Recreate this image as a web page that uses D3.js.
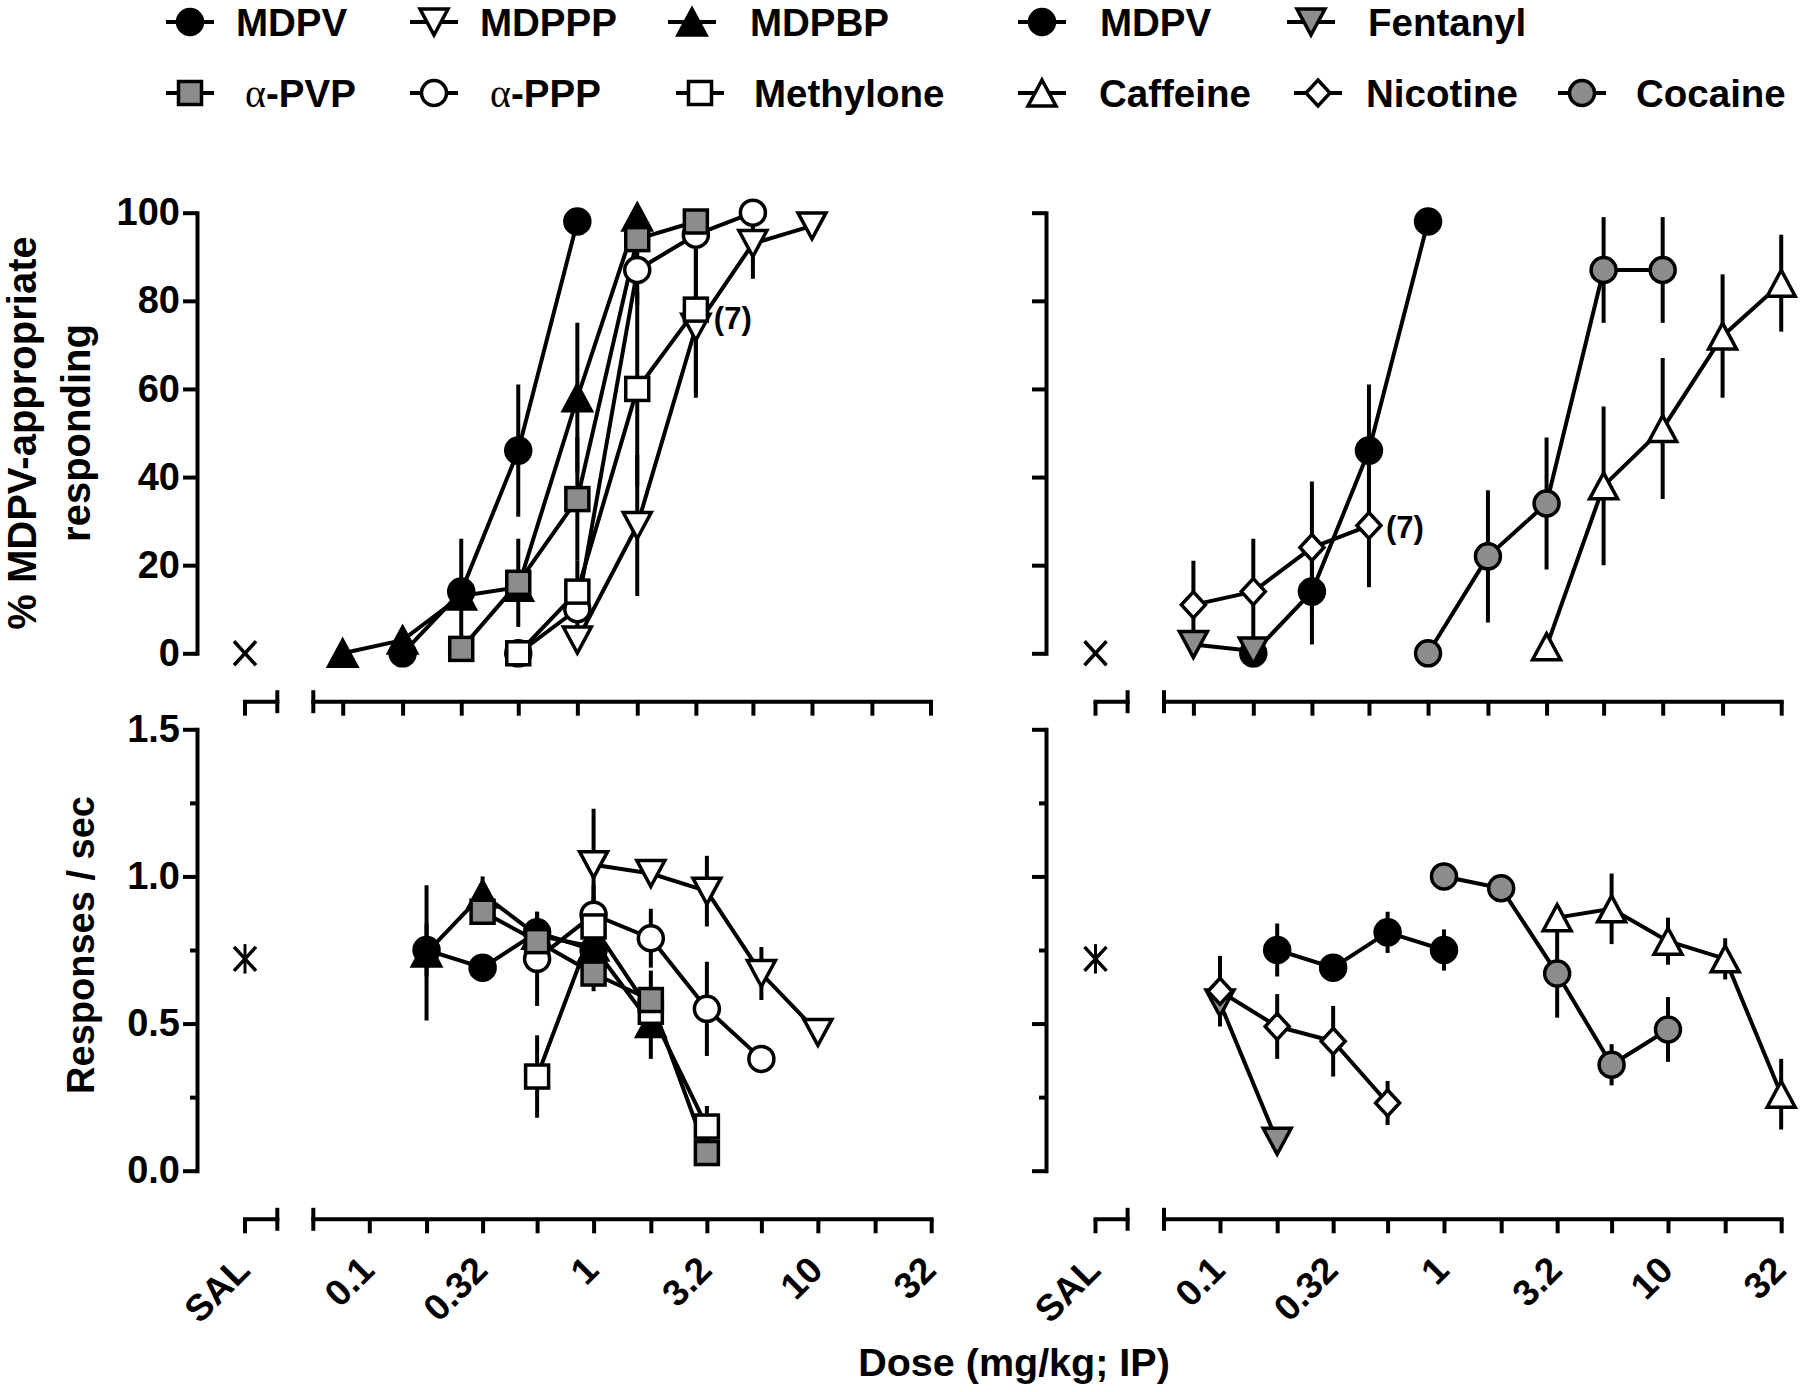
<!DOCTYPE html>
<html><head><meta charset="utf-8">
<script src="https://cdn.jsdelivr.net/npm/d3@7/dist/d3.min.js"></script>
<style>
html,body{margin:0;padding:0;background:#fff}
svg{display:block}
</style></head>
<body><svg id="chart" width="1800" height="1392"></svg>
<script>
// ---------------- data ----------------
const doseTicks = [0.1,0.18,0.32,0.56,1,1.8,3.2,5.6,10,18,32];
const doseTickLabels = ["0.1","","0.32","","1","","3.2","","10","","32"];
const salLabel = "SAL";
const pctTicks = [0,20,40,60,80,100];
const rateTicks = [0,0.5,1,1.5];
const rateMinorTicks = [0.25,0.75,1.25];

const salPct = 0;
const salRate = 0.72, salRateErr = 0.05;

const mdpvDose = [0.18,0.32,0.56,1];
const mdpvPct = [0,14,46,98];
const mdpvPctErr = [0,12,15,0];
const mdpvRate = [0.75,0.69,0.81,0.75];
const mdpvRateErr = [0.09,0,0.07,0.07];

const mdpppDose = [1,1.8,3.2,5.6,10];
const mdpppPct = [3,29,74,93,97];
const mdpppPctErr = [0,16,16,8,0];
const mdpppRate = [1.04,1.01,0.95,0.67,0.47];
const mdpppRateErr = [0.19,0,0.12,0.09,0];

const mdpbpDose = [0.1,0.18,0.32,0.56,1,1.8];
const mdpbpPct = [0,3,13,15,58,99];
const mdpbpPctErr = [0,0,0,0,17,0];
const mdpbpRate = [null,0.74,0.94,0.8,0.76,0.5];
const mdpbpRateErr = [0,0.23,0.06,0,0,0.12];

const apvpDose = [0.32,0.56,1,1.8,3.2];
const apvpPct = [1,16,35,94,98];
const apvpPctErr = [0,10,14,0,0];
const apvpRate = [0.88,0.78,0.67,0.58,0.06];
const apvpRateErr = [0.04,0,0.06,0.1,0];

const apppDose = [0.56,1,1.8,3.2,5.6];
const apppPct = [0,10,87,95,100];
const apppPctErr = [0,5,8,5,0];
const apppRate = [0.72,0.87,0.79,0.55,0.38];
const apppRateErr = [0.16,0.1,0.1,0.16,0];

const methDose = [0.56,1,1.8,3.2];
const methPct = [0,14,60,78];
const methPctErr = [0,7,22,19];
const methRate = [0.32,0.83,0.54,0.15];
const methRateErr = [0.14,0.1,0.08,0.07];

const fentDose = [0.1,0.18];
const fentPct = [2,0.5];
const fentPctErr = [0,0];
const fentRate = [0.57,0.1];
const fentRateErr = [0,0];

const caffDose = [3.2,5.6,10,18,32];
const caffPct = [1.5,38,51,72,84];
const caffPctErr = [0,18,16,14,11];
const caffRate = [0.86,0.89,0.78,0.72,0.26];
const caffRateErr = [0,0.12,0.08,0.07,0.12];

const nicDose = [0.1,0.18,0.32,0.56];
const nicPct = [11,14,24,29];
const nicPctErr = [10,12,15,14];
const nicRate = [0.61,0.49,0.44,0.23];
const nicRateErr = [0.12,0.11,0.12,0.075];

const cocDose = [1,1.8,3.2,5.6,10];
const cocPct = [0,22,34,87,87];
const cocPctErr = [0,15,15,12,12];
const cocRate = [1.0,0.96,0.67,0.36,0.48];
const cocRateErr = [0,0,0.15,0.07,0.11];

const annotText = ["(7)","(7)"];

// ---------------- setup ----------------
const FONT = "'Liberation Sans', Arial, Helvetica, sans-serif";
const GRAY = "#8c8c8c";
const LW = 4;
const svg = d3.select("#chart");

const S = (name, shape, fill, dose, pct, pctErr, rate, rateErr) =>
  ({name, shape, fill, dose, pct, pctErr, rate, rateErr});

const leftSeries = [
  S("MDPV","circle","#000",mdpvDose,mdpvPct,mdpvPctErr,mdpvRate,mdpvRateErr),
  S("MDPPP","triDown","#fff",mdpppDose,mdpppPct,mdpppPctErr,mdpppRate,mdpppRateErr),
  S("MDPBP","triUp","#000",mdpbpDose,mdpbpPct,mdpbpPctErr,mdpbpRate,mdpbpRateErr),
  S("α-PPP","circle","#fff",apppDose,apppPct,apppPctErr,apppRate,apppRateErr),
  S("Methylone","square","#fff",methDose,methPct,methPctErr,methRate,methRateErr),
  S("α-PVP","square",GRAY,apvpDose,apvpPct,apvpPctErr,apvpRate,apvpRateErr)
];
const rightSeries = [
  S("MDPV","circle","#000",mdpvDose,mdpvPct,mdpvPctErr,mdpvRate,mdpvRateErr),
  S("Fentanyl","triDown",GRAY,fentDose,fentPct,fentPctErr,fentRate,fentRateErr),
  S("Nicotine","diamond","#fff",nicDose,nicPct,nicPctErr,nicRate,nicRateErr),
  S("Cocaine","circle",GRAY,cocDose,cocPct,cocPctErr,cocRate,cocRateErr),
  S("Caffeine","triUp","#fff",caffDose,caffPct,caffPctErr,caffRate,caffRateErr)
];

const cols = [
  {yAxisX:197, salX:245, breakX:277.3, mainX0:313.3, up:[342.7,929.3], low:[369.3,930], series:leftSeries, labels:true},
  {yAxisX:1046, salX:1095.5, breakX:1127.6, mainX0:1164, up:[1193.4,1780], low:[1220,1780], series:rightSeries, labels:false}
];
cols.forEach(c => {
  c.xUp = d3.scaleLog().domain([0.1,31.62]).range(c.up);
  c.xLow = d3.scaleLog().domain([0.1,31.62]).range(c.low);
});
const yPct = d3.scaleLinear().domain([0,100]).range([653.3,212.7]);
const yRate = d3.scaleLinear().domain([0,1.5]).range([1170.7,729.3]);
const axisYUp = 701.7, axisYLow = 1219.3;

function marker(g, shape, fill, x, y) {
  const st = el => el.attr("fill", fill).attr("stroke","#000").attr("stroke-width",3.5).attr("stroke-linejoin","miter");
  if (shape === "circle") st(g.append("circle").attr("cx",x).attr("cy",y).attr("r",12.5));
  else if (shape === "square") st(g.append("rect").attr("x",x-11.5).attr("y",y-11.5).attr("width",23).attr("height",23));
  else if (shape === "triUp") st(g.append("path").attr("d",`M${x},${y-13}L${x+14},${y+13}L${x-14},${y+13}Z`));
  else if (shape === "triDown") st(g.append("path").attr("d",`M${x},${y+13}L${x+14},${y-13}L${x-14},${y-13}Z`));
  else if (shape === "diamond") st(g.append("path").attr("d",`M${x},${y-13}L${x+12},${y}L${x},${y+13}L${x-12},${y}Z`));
  else if (shape === "cross") {
    g.append("path").attr("d",`M${x-11},${y-12}L${x+11},${y+12}M${x+11},${y-12}L${x-11},${y+12}`)
      .attr("stroke","#000").attr("stroke-width",3.5).attr("fill","none");
  }
}

function vline(g, x, y1, y2, w=LW) {
  g.append("line").attr("x1",x).attr("x2",x).attr("y1",y1).attr("y2",y2)
    .attr("stroke","#000").attr("stroke-width",w);
}
function hline(g, x1, x2, y, w=LW) {
  g.append("line").attr("x1",x1).attr("x2",x2).attr("y1",y).attr("y2",y)
    .attr("stroke","#000").attr("stroke-width",w);
}

function drawXAxis(c, xs, y0, labels) {
  const g = svg.append("g").attr("transform",`translate(0,${y0})`);
  g.call(d3.axisBottom(xs).tickValues(doseTicks).tickSize(14).tickSizeOuter(0).tickFormat(""));
  g.select(".domain").remove();
  g.selectAll(".tick line").attr("stroke","#000").attr("stroke-width",LW);
  hline(g, c.mainX0-2, xs(32)+2.5, 0);
  vline(g, c.mainX0, -11.5, 11.5);
  hline(g, c.salX-2, c.breakX+2, 0);
  vline(g, c.salX, 0, 14);
  vline(g, c.breakX, -11.5, 11.5);
  if (labels) {
    const lab = svg.append("g").attr("font-family",FONT).attr("font-weight","bold").attr("font-size",37);
    doseTicks.forEach((d,i) => {
      if (!doseTickLabels[i]) return;
      lab.append("text").attr("text-anchor","end")
        .attr("transform",`translate(${xs(d)+7},${y0+53}) rotate(-45)`).text(doseTickLabels[i]);
    });
    lab.append("text").attr("text-anchor","end")
      .attr("transform",`translate(${c.salX+7},${y0+53}) rotate(-45)`).text(salLabel);
  }
}

function drawYAxis(c, ys, ticks, minor, fmt, showLabels) {
  const g = svg.append("g").attr("transform",`translate(${c.yAxisX},0)`);
  g.call(d3.axisLeft(ys).tickValues(ticks).tickSize(14).tickPadding(3).tickSizeOuter(0)
    .tickFormat(showLabels ? fmt : ""));
  g.select(".domain").attr("stroke","#000").attr("stroke-width",LW).attr("stroke-linecap","square");
  g.selectAll(".tick line").attr("stroke","#000").attr("stroke-width",LW);
  g.selectAll(".tick text").attr("font-family",FONT).attr("font-weight","bold").attr("font-size",38).attr("fill","#000");
  if (minor) {
    const m = svg.append("g").attr("transform",`translate(${c.yAxisX},0)`);
    m.call(d3.axisLeft(ys).tickValues(minor).tickSize(7).tickSizeOuter(0).tickFormat(""));
    m.select(".domain").remove();
    m.selectAll(".tick line").attr("stroke","#000").attr("stroke-width",LW);
  }
}

function drawSeries(c, xs, ys, key) {
  const gl = svg.append("g"), gm = svg.append("g");
  c.series.forEach(s => {
    const pts = s.dose.map((d,i)=>({d, v:s[key][i], e:s[key+"Err"][i]})).filter(p=>p.v!=null);
    gl.append("path").datum(pts)
      .attr("d", d3.line().x(p=>xs(p.d)).y(p=>ys(p.v)))
      .attr("fill","none").attr("stroke","#000").attr("stroke-width",LW).attr("stroke-linejoin","round");
    pts.filter(p=>p.e>0).forEach(p => vline(gl, xs(p.d), ys(p.v-p.e), ys(p.v+p.e)));
  });
  c.series.forEach(s => {
    s.dose.forEach((d,i) => { if (s[key][i]!=null) marker(gm, s.shape, s.fill, xs(d), ys(s[key][i])); });
  });
}

cols.forEach(c => {
  drawYAxis(c, yPct, pctTicks, null, d3.format("d"), c.labels);
  drawYAxis(c, yRate, rateTicks, rateMinorTicks, d3.format(".1f"), c.labels);
  drawXAxis(c, c.xUp, axisYUp, false);
  drawXAxis(c, c.xLow, axisYLow, true);
  drawSeries(c, c.xUp, yPct, "pct");
  drawSeries(c, c.xLow, yRate, "rate");
  const g = svg.append("g");
  vline(g, c.salX, yRate(salRate+salRateErr), yRate(salRate-salRateErr), 3);
  marker(g, "cross", "none", c.salX, yPct(salPct));
  marker(g, "cross", "none", c.salX, yRate(salRate));
});

// annotations "(7)"
const ann = svg.append("g").attr("font-family",FONT).attr("font-weight","bold").attr("font-size",31);
ann.append("text").attr("x", cols[0].xUp(methDose[3])+18).attr("y", yPct(methPct[3])+19).text(annotText[0]);
ann.append("text").attr("x", cols[1].xUp(nicDose[3])+17).attr("y", yPct(nicPct[3])+12).text(annotText[1]);

// axis titles
const t = svg.append("g").attr("font-family",FONT).attr("font-weight","bold").attr("fill","#000");
t.append("text").attr("text-anchor","middle").attr("font-size",40)
  .attr("transform","translate(36,433) rotate(-90)").text("% MDPV-appropriate");
t.append("text").attr("text-anchor","middle").attr("font-size",40)
  .attr("transform","translate(90,433) rotate(-90)").text("responding");
t.append("text").attr("text-anchor","middle").attr("font-size",38)
  .attr("transform","translate(94,945) rotate(-90)").text("Responses / sec");
t.append("text").attr("text-anchor","middle").attr("font-size",39.5)
  .attr("x",1014).attr("y",1376).text("Dose (mg/kg; IP)");

// legend
const legendItems = [
  {name:"MDPV", shape:"circle", fill:"#000", mx:190, tx:236, row:0},
  {name:"MDPPP", shape:"triDown", fill:"#fff", mx:434, tx:480, row:0},
  {name:"MDPBP", shape:"triUp", fill:"#000", mx:692, tx:750, row:0},
  {name:"α-PVP", shape:"square", fill:GRAY, mx:190, tx:245, row:1},
  {name:"α-PPP", shape:"circle", fill:"#fff", mx:434, tx:490, row:1},
  {name:"Methylone", shape:"square", fill:"#fff", mx:700, tx:754, row:1},
  {name:"MDPV", shape:"circle", fill:"#000", mx:1042, tx:1100, row:0},
  {name:"Fentanyl", shape:"triDown", fill:GRAY, mx:1311, tx:1368, row:0},
  {name:"Caffeine", shape:"triUp", fill:"#fff", mx:1042, tx:1099, row:1},
  {name:"Nicotine", shape:"diamond", fill:"#fff", mx:1318, tx:1366, row:1},
  {name:"Cocaine", shape:"circle", fill:GRAY, mx:1582, tx:1636, row:1}
];
const rowY = [22, 93];
const lg = svg.append("g");
legendItems.forEach(it => {
  const y = rowY[it.row];
  hline(lg, it.mx-24, it.mx+24, y);
  marker(lg, it.shape, it.fill, it.mx, y);
  const tx = lg.append("text").attr("x",it.tx).attr("y",y+13.5).attr("font-size",38.5)
    .attr("font-family",FONT).attr("font-weight","bold");
  if (it.name.startsWith("α")) {
    tx.append("tspan").attr("font-family","'Liberation Serif', 'DejaVu Serif', serif").attr("font-weight","normal").attr("font-size",40).text("α");
    tx.append("tspan").text(it.name.slice(1));
  } else tx.text(it.name);
});
</script>
</body></html>
